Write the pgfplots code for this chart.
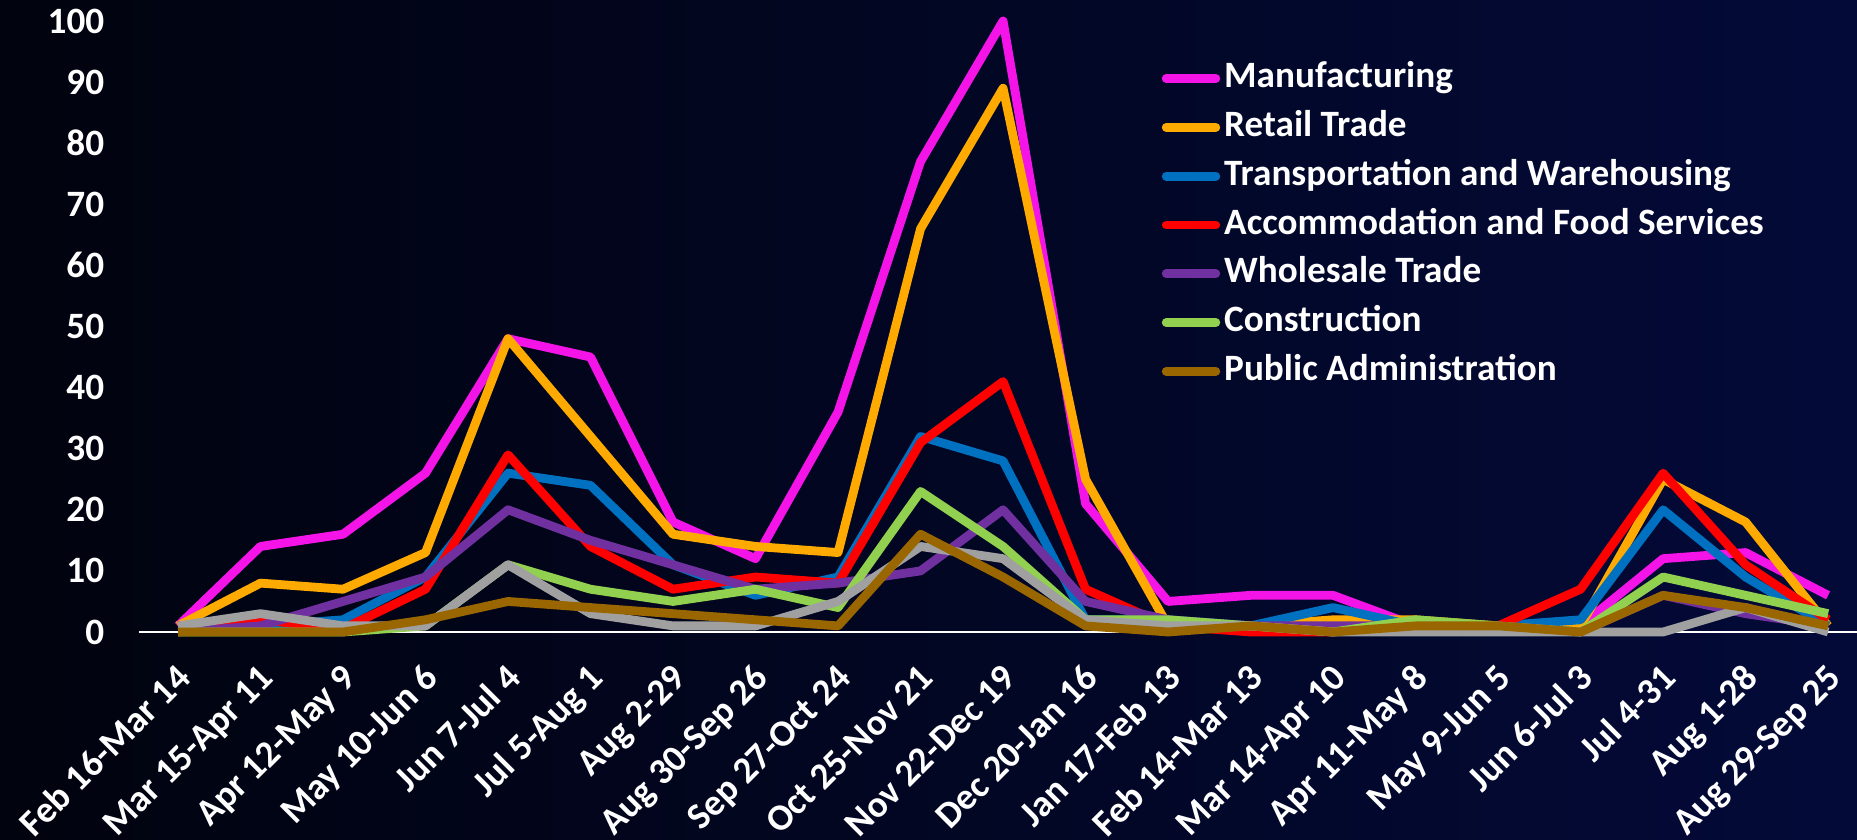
\documentclass[border=0pt]{standalone}
\usepackage{fontspec}
\setmainfont{Carlito}
\usepackage{pgfplots}
\pgfplotsset{compat=1.18}

\definecolor{bgl}{RGB}{1,3,14}
\definecolor{bgr}{RGB}{3,10,56}
\definecolor{cmanu}{RGB}{245,20,232}
\definecolor{cretail}{RGB}{255,170,0}
\definecolor{ctrans}{RGB}{0,112,192}
\definecolor{caccom}{RGB}{255,0,0}
\definecolor{cwhole}{RGB}{112,48,160}
\definecolor{cconst}{RGB}{146,208,80}
\definecolor{cother}{RGB}{160,160,160}
\definecolor{cpublic}{RGB}{153,102,0}

\newcommand{\lblfont}{\fontsize{9.3bp}{11bp}\selectfont\bfseries}

\begin{document}
\begin{tikzpicture}
\fill[left color=bgl, right color=bgr] (-34.75bp,-52bp) rectangle (429.5bp,158bp);
\begin{axis}[
  at={(0,0)}, anchor=south west,
  scale only axis,
  width=429.5bp, height=152.75bp,
  xmin=-0.4727, xmax=20.35,
  ymin=0, ymax=100,
  clip=false,
  axis x line*=bottom, axis y line*=left,
  x axis line style={-, white, line width=0.7bp},
  y axis line style={draw=none},
  tick style={draw=none},
  xtick={0,...,20},
  xticklabels={Feb 16-Mar 14, Mar 15-Apr 11, Apr 12-May 9, May 10-Jun 6,
    Jun 7-Jul 4, Jul 5-Aug 1, Aug 2-29, Aug 30-Sep 26, Sep 27-Oct 24,
    Oct 25-Nov 21, Nov 22-Dec 19, Dec 20-Jan 16, Jan 17-Feb 13,
    Feb 14-Mar 13, Mar 14-Apr 10, Apr 11-May 8, May 9-Jun 5, Jun 6-Jul 3,
    Jul 4-31, Aug 1-28, Aug 29-Sep 25},
  ytick={0,10,...,100},
  /pgf/number format/assume math mode=true,
  ticklabel style={text=white, font=\lblfont, inner sep=0pt},
  xticklabel style={xshift=3.8bp, yshift=-12bp, rotate=45, anchor=base east},
  yticklabel style={anchor=east, xshift=-8.5bp},
  every axis plot/.append style={line width=2.2bp, line join=round},
  legend cell align=left,
  legend style={draw=none, fill=none, inner sep=0pt, row sep=1.2bp,
    at={(axis description cs:0.5949,0.9431)}, anchor=north west,
    nodes={text=white, font=\lblfont, inner sep=1bp, text height=6.8bp, text depth=2.2bp}},
  legend image code/.code={\draw[#1, line cap=round] (0bp,0bp) -- (12.4bp,0bp);},
]
% Manufacturing
\addplot[cmanu] coordinates {(0,1) (1,14) (2,16) (3,26) (4,48) (5,45) (6,18) (7,12) (8,36) (9,77) (10,100) (11,21) (12,5) (13,6) (14,6) (15,1) (16,1) (17,1) (18,12) (19,13) (20,6)};
\addlegendentry{Manufacturing}
% Retail Trade
\addplot[cretail] coordinates {(0,1) (1,8) (2,7) (3,13) (4,48) (5,32) (6,16) (7,14) (8,13) (9,66) (10,89) (11,25) (12,1) (13,1) (14,2) (15,2) (16,1) (17,1) (18,25) (19,18) (20,1)};
\addlegendentry{Retail Trade}
% Transportation and Warehousing
\addplot[ctrans] coordinates {(0,1) (1,1) (2,2) (3,9) (4,26) (5,24) (6,11) (7,6) (8,9) (9,32) (10,28) (11,2) (12,2) (13,1) (14,4) (15,1) (16,1) (17,2) (18,20) (19,9) (20,1)};
\addlegendentry{Transportation and Warehousing}
% Accommodation and Food Services
\addplot[caccom] coordinates {(0,1) (1,2) (2,0.5) (3,7) (4,29) (5,14) (6,7) (7,9) (8,8) (9,31) (10,41) (11,7) (12,1) (13,0) (14,0) (15,1) (16,1) (17,7) (18,26) (19,11) (20,2)};
\addlegendentry{Accommodation and Food Services}
% Wholesale Trade
\addplot[cwhole] coordinates {(0,0) (1,1) (2,5) (3,9) (4,20) (5,15) (6,11) (7,7) (8,8) (9,10) (10,20) (11,5) (12,2) (13,1) (14,1) (15,1) (16,1) (17,0) (18,6) (19,3) (20,1)};
\addlegendentry{Wholesale Trade}
% Construction
\addplot[cconst] coordinates {(0,0) (1,0) (2,0) (3,1) (4,11) (5,7) (6,5) (7,7) (8,4) (9,23) (10,14) (11,2) (12,2) (13,1) (14,0) (15,2) (16,1) (17,0) (18,9) (19,6) (20,3)};
\addlegendentry{Construction}
% unlabelled grey series
\addplot[cother, forget plot] coordinates {(0,1) (1,3) (2,1) (3,1) (4,11) (5,3) (6,1) (7,1) (8,5) (9,14) (10,12) (11,2) (12,1) (13,1) (14,0) (15,0) (16,0) (17,0) (18,0) (19,4) (20,0)};
% Public Administration
\addplot[cpublic] coordinates {(0,0) (1,0) (2,0) (3,2) (4,5) (5,4) (6,3) (7,2) (8,1) (9,16) (10,9) (11,1) (12,0) (13,1) (14,0) (15,1) (16,1) (17,0) (18,6) (19,4) (20,1)};
\addlegendentry{Public Administration}
\end{axis}
\pgfresetboundingbox
\path[use as bounding box] (-34.75bp,-52bp) rectangle (429.5bp,158bp);
\end{tikzpicture}
\end{document}
